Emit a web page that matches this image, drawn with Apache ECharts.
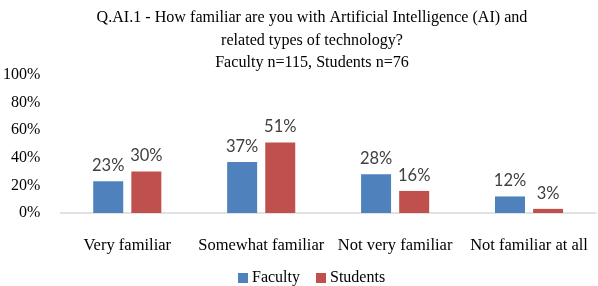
<!DOCTYPE html>
<html>
<head>
<meta charset="utf-8">
<script src="https://cdn.jsdelivr.net/npm/echarts@6/dist/echarts.min.js"></script>
<style>
html,body{margin:0;padding:0;background:#fff;}
#chart{width:598px;height:286px;}
</style>
</head>
<body>
<div id="chart"></div>
<script>
var categories = ["Very familiar", "Somewhat familiar", "Not very familiar", "Not familiar at all"];
var faculty = [23, 37, 28, 12];
var students = [30, 51, 16, 3];
var yTicks = [0, 20, 40, 60, 80, 100];

var serif = "'Liberation Serif', 'DejaVu Serif', serif";

var myChart = echarts.init(document.getElementById('chart'));

function barLabel() {
    return {
        show: true,
        position: 'top',
        distance: 7,
        fontFamily: 'Lato',
        fontSize: 16.5,
        color: '#404040',
        formatter: function(p) { return p.value + '%'; }
    };
}

var option = {
    backgroundColor: '#fff',
    animation: false,
    title: {
        text: 'Q.AI.1 - How familiar are you with Artificial Intelligence (AI) and\nrelated types of technology?\nFaculty n=115, Students n=76',
        left: 307,
        textAlign: 'center',
        top: 2,
        textStyle: {
            fontFamily: serif,
            fontWeight: 'normal',
            fontSize: 16.1,
            lineHeight: 22.5,
            color: '#000'
        }
    },
    legend: {
        left: 233,
        top: 265,
        itemWidth: 10,
        itemHeight: 10,
        itemGap: 16,
        icon: 'rect',
        textStyle: { fontFamily: serif, fontSize: 16, color: '#000', padding: [0, 0, 0, -1] },
        data: ['Faculty', 'Students']
    },
    grid: { left: 60, right: 2, top: 75, bottom: 73 },
    xAxis: {
        type: 'category',
        data: categories,
        axisLine: { lineStyle: { color: '#d9d9d9', width: 1.5 } },
        axisTick: { show: false },
        axisLabel: { interval: 0, margin: 24, fontFamily: serif, fontSize: 16.5, color: '#000' }
    },
    yAxis: {
        type: 'value',
        min: 0,
        max: 100,
        interval: 20,
        splitLine: { show: false },
        axisLine: { show: false },
        axisTick: { show: false },
        axisLabel: {
            margin: 20,
            fontFamily: serif,
            fontSize: 16,
            color: '#000',
            formatter: function(v) { return yTicks.indexOf(v) >= 0 ? v + '%' : ''; }
        }
    },
    series: [{
        name: 'Faculty',
        type: 'bar',
        barWidth: 30,
        barGap: '27%',
        itemStyle: { color: '#4F81BD' },
        label: barLabel(),
        data: faculty
    }, {
        name: 'Students',
        type: 'bar',
        barWidth: 30,
        itemStyle: { color: '#C0504D' },
        label: barLabel(),
        data: students
    }]
};

myChart.setOption(option);
</script>
</body>
</html>
